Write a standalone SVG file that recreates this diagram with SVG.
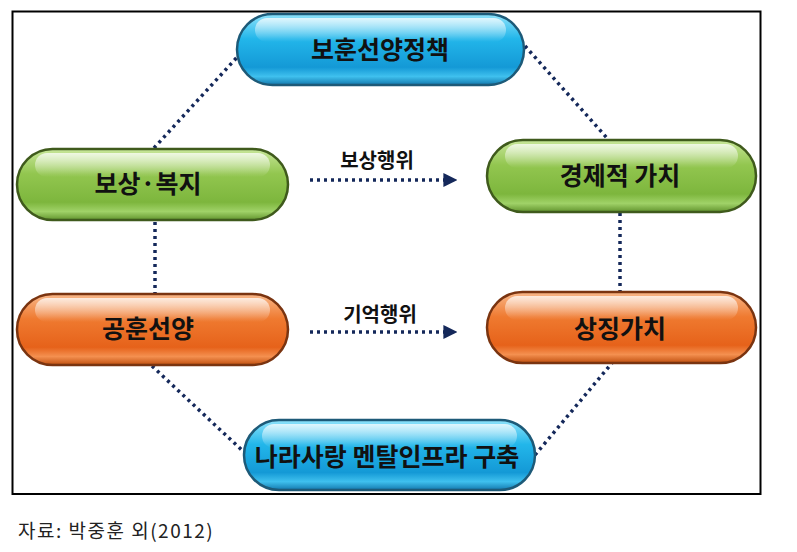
<svg xmlns="http://www.w3.org/2000/svg" width="797" height="552" viewBox="0 0 797 552">
<defs>
<linearGradient id="gBlue" x1="0" y1="0" x2="0" y2="1">
<stop offset="0" stop-color="#8fe3fb"/><stop offset="0.35" stop-color="#22b6ea"/><stop offset="0.75" stop-color="#1499d6"/><stop offset="0.88" stop-color="#3fc0ee"/><stop offset="1" stop-color="#1378ad"/>
</linearGradient>
<linearGradient id="gGreen" x1="0" y1="0" x2="0" y2="1">
<stop offset="0" stop-color="#c8e69a"/><stop offset="0.35" stop-color="#92c64f"/><stop offset="0.75" stop-color="#7db63d"/><stop offset="0.88" stop-color="#a0d268"/><stop offset="1" stop-color="#62942e"/>
</linearGradient>
<linearGradient id="gOrange" x1="0" y1="0" x2="0" y2="1">
<stop offset="0" stop-color="#f8b88a"/><stop offset="0.35" stop-color="#ef7a30"/><stop offset="0.75" stop-color="#e6621a"/><stop offset="0.88" stop-color="#f49050"/><stop offset="1" stop-color="#c0500f"/>
</linearGradient>
<linearGradient id="gShine" x1="0" y1="0" x2="0" y2="1">
<stop offset="0" stop-color="#fff" stop-opacity="0.75"/><stop offset="1" stop-color="#fff" stop-opacity="0"/>
</linearGradient>
<marker id="arr" viewBox="0 0 10 10" refX="9" refY="5" markerWidth="4" markerHeight="4" orient="auto" markerUnits="strokeWidth">
<path d="M0,0 L10,5 L0,10 z" fill="#14285a"/>
</marker>
</defs>
<style>
.pill{stroke-width:2.5}
.blue{fill:url(#gBlue);stroke:#1d5a78}
.green{fill:url(#gGreen);stroke:#3f5a1c}
.orange{fill:url(#gOrange);stroke:#7a3410}
.shine{fill:url(#gShine)}
.lbl{font-family:"Noto Sans CJK KR","Noto Sans",sans-serif;font-weight:bold;font-size:25px;fill:#111;text-anchor:middle;dominant-baseline:central}
.dot{fill:none;stroke:#14285a;stroke-width:3.5;stroke-dasharray:3 4}
.albl{font-family:"Noto Sans CJK KR","Noto Sans",sans-serif;font-weight:bold;font-size:20px;fill:#111;text-anchor:middle}
</style>
<rect x="12.5" y="11.5" width="748" height="482.5" fill="#fff" stroke="#000" stroke-width="2"/>
<g id="connectors">
<line class="dot" x1="154" y1="148" x2="240" y2="54"/>
<line class="dot" x1="525" y1="46" x2="607" y2="138"/>
<line class="dot" x1="155" y1="222" x2="155" y2="294"/>
<line class="dot" x1="620" y1="213" x2="620" y2="292"/>
<line class="dot" x1="152" y1="366" x2="246" y2="454"/>
<line class="dot" x1="535" y1="455" x2="612" y2="363"/>
<line class="dot" x1="310" y1="180" x2="456" y2="180" marker-end="url(#arr)"/>
<line class="dot" x1="310" y1="332" x2="456" y2="332" marker-end="url(#arr)"/>
<text class="albl" x="377" y="168">보상행위</text>
<text class="albl" x="380" y="322">기억행위</text>
</g>
<g id="n1">
<rect class="pill blue" x="237" y="14" width="287" height="71" rx="35.5"/>
<rect class="shine" x="255" y="18" width="251" height="24" rx="12"/>
<text class="lbl" x="380" y="48">보훈선양정책</text>
</g>
<g id="n2">
<rect class="pill green" x="17" y="149" width="271" height="71" rx="35.5"/>
<rect class="shine" x="35" y="153" width="235" height="24" rx="12"/>
<text class="lbl" x="148" y="182">보상·복지</text>
</g>
<g id="n3">
<rect class="pill green" x="487" y="140" width="269" height="72" rx="36"/>
<rect class="shine" x="505" y="144" width="233" height="24" rx="12"/>
<text class="lbl" x="620" y="174">경제적 가치</text>
</g>
<g id="n4">
<rect class="pill orange" x="17" y="294" width="271" height="71" rx="35.5"/>
<rect class="shine" x="35" y="298" width="235" height="24" rx="12"/>
<text class="lbl" x="148" y="327">공훈선양</text>
</g>
<g id="n5">
<rect class="pill orange" x="487" y="292" width="269" height="71" rx="35.5"/>
<rect class="shine" x="505" y="296" width="233" height="24" rx="12"/>
<text class="lbl" x="620" y="327">상징가치</text>
</g>
<g id="n6">
<rect class="pill blue" x="244" y="420" width="291" height="70" rx="35"/>
<rect class="shine" x="262" y="424" width="255" height="24" rx="12"/>
<text class="lbl" x="387" y="455">나라사랑 멘탈인프라 구축</text>
</g>
<text x="18" y="538" font-family="'Noto Sans CJK KR',serif" font-size="19" fill="#222" letter-spacing="1.5">자료: 박중훈 외(2012)</text>
</svg>
